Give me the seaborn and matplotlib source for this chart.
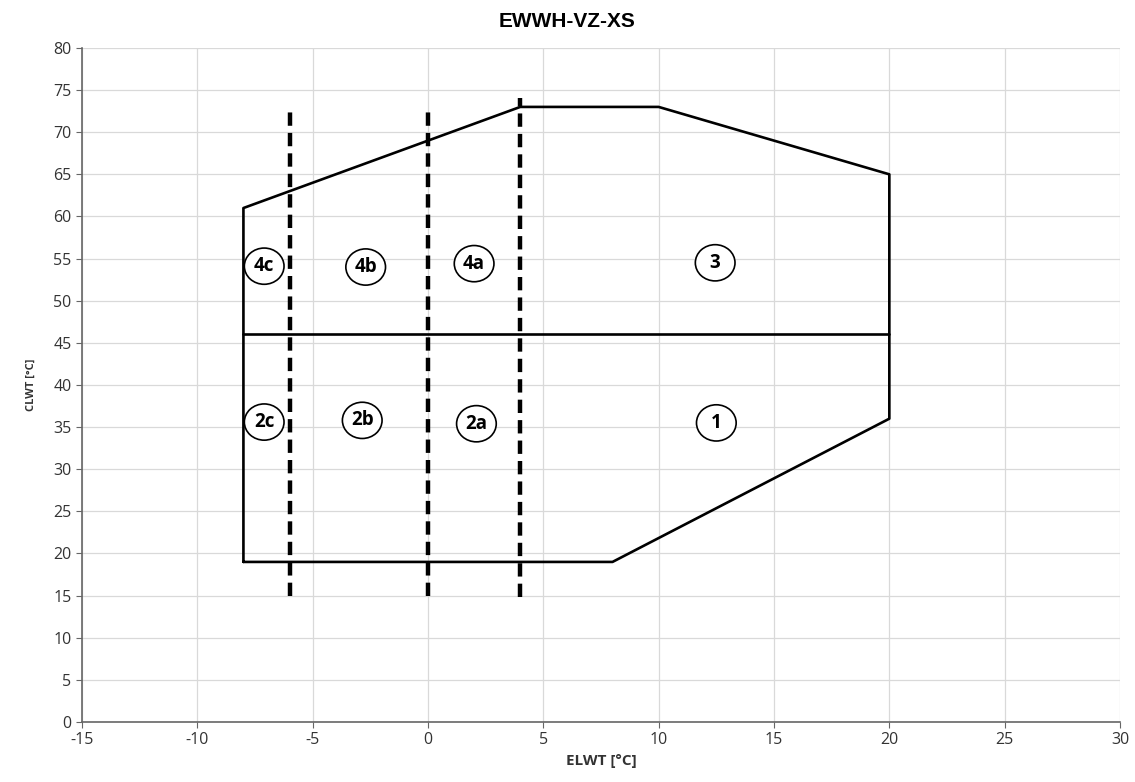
import matplotlib
matplotlib.use("Agg")
import matplotlib.pyplot as plt
from matplotlib.patches import Ellipse
import seaborn as sns
import pandas as pd

# Operating envelope outline (ELWT, CLWT)
envelope_x = [-8, -8, 4, 10, 20, 20, 8, -8]
envelope_y = [19, 61, 73, 73, 65, 36, 19, 19]

# Split line between lower and upper zones
split_x = [-8, 20]
split_y = [46, 46]

# Dashed zone limits
limit_x = [-6, 0, 4]
limit_bottom = [15, 15, 14.8]
limit_top = [73, 73, 74]

# Zone labels
zone_names = ["4c", "4b", "4a", "3", "2c", "2b", "2a", "1"]
zone_x = [-7.1, -2.7, 2.0, 12.45, -7.1, -2.85, 2.1, 12.5]
zone_y = [54.1, 54.0, 54.4, 54.5, 35.6, 35.8, 35.4, 35.5]

sns.set_style("whitegrid")
plt.rcParams["font.family"] = ["Open Sans", "DejaVu Sans"]
plt.rcParams["axes.unicode_minus"] = False

fig = plt.figure(figsize=(11.35, 7.82), dpi=100)
ax = fig.add_axes([0.0722, 0.0767, 0.9146, 0.862])

env = pd.DataFrame({"x": envelope_x, "y": envelope_y})
sns.lineplot(data=env, x="x", y="y", sort=False, estimator=None,
             color="black", linewidth=1.9, ax=ax)
sns.lineplot(x=split_x, y=split_y, color="black", linewidth=1.9, ax=ax)

# dashed limits between zones
for xv, y0, y1 in zip(limit_x, limit_bottom, limit_top):
    ax.plot([xv, xv], [y0, y1], color="black", linewidth=3.2,
            linestyle=(0, (3, 1.6)))

for name, xv, yv in zip(zone_names, zone_x, zone_y):
    ax.add_patch(Ellipse((xv, yv), width=1.72, height=4.3, fc="white",
                         ec="black", lw=1.2, zorder=4))
    ax.text(xv, yv, name, ha="center", va="center", fontsize=13.5,
            fontweight="bold", color="black", zorder=5)

ax.set_xlim(-15, 30)
ax.set_ylim(0, 80)
ax.set_xticks(range(-15, 31, 5))
ax.set_yticks(range(0, 81, 5))
ax.tick_params(axis="both", labelsize=11.5, length=4, color="#666666",
               direction="out", bottom=True, left=True, labelcolor="#333333")
ax.grid(True, color="#d9d9d9", linewidth=0.9)
for side in ["top", "right"]:
    ax.spines[side].set_visible(False)
for side in ["left", "bottom"]:
    ax.spines[side].set_color("#666666")
    ax.spines[side].set_linewidth(1.2)

ax.set_xlabel("ELWT [°C]", fontsize=11, fontweight="bold", labelpad=4,
              color="#333333")
ax.set_ylabel("CLWT [°C]", fontsize=8, fontweight="bold", labelpad=12,
              color="#333333")
fig.suptitle("EWWH-VZ-XS", x=0.5, y=0.985, fontsize=15, fontweight="bold",
             color="black", family=["Liberation Sans", "DejaVu Sans"])

fig.savefig("out.png", dpi=100)
